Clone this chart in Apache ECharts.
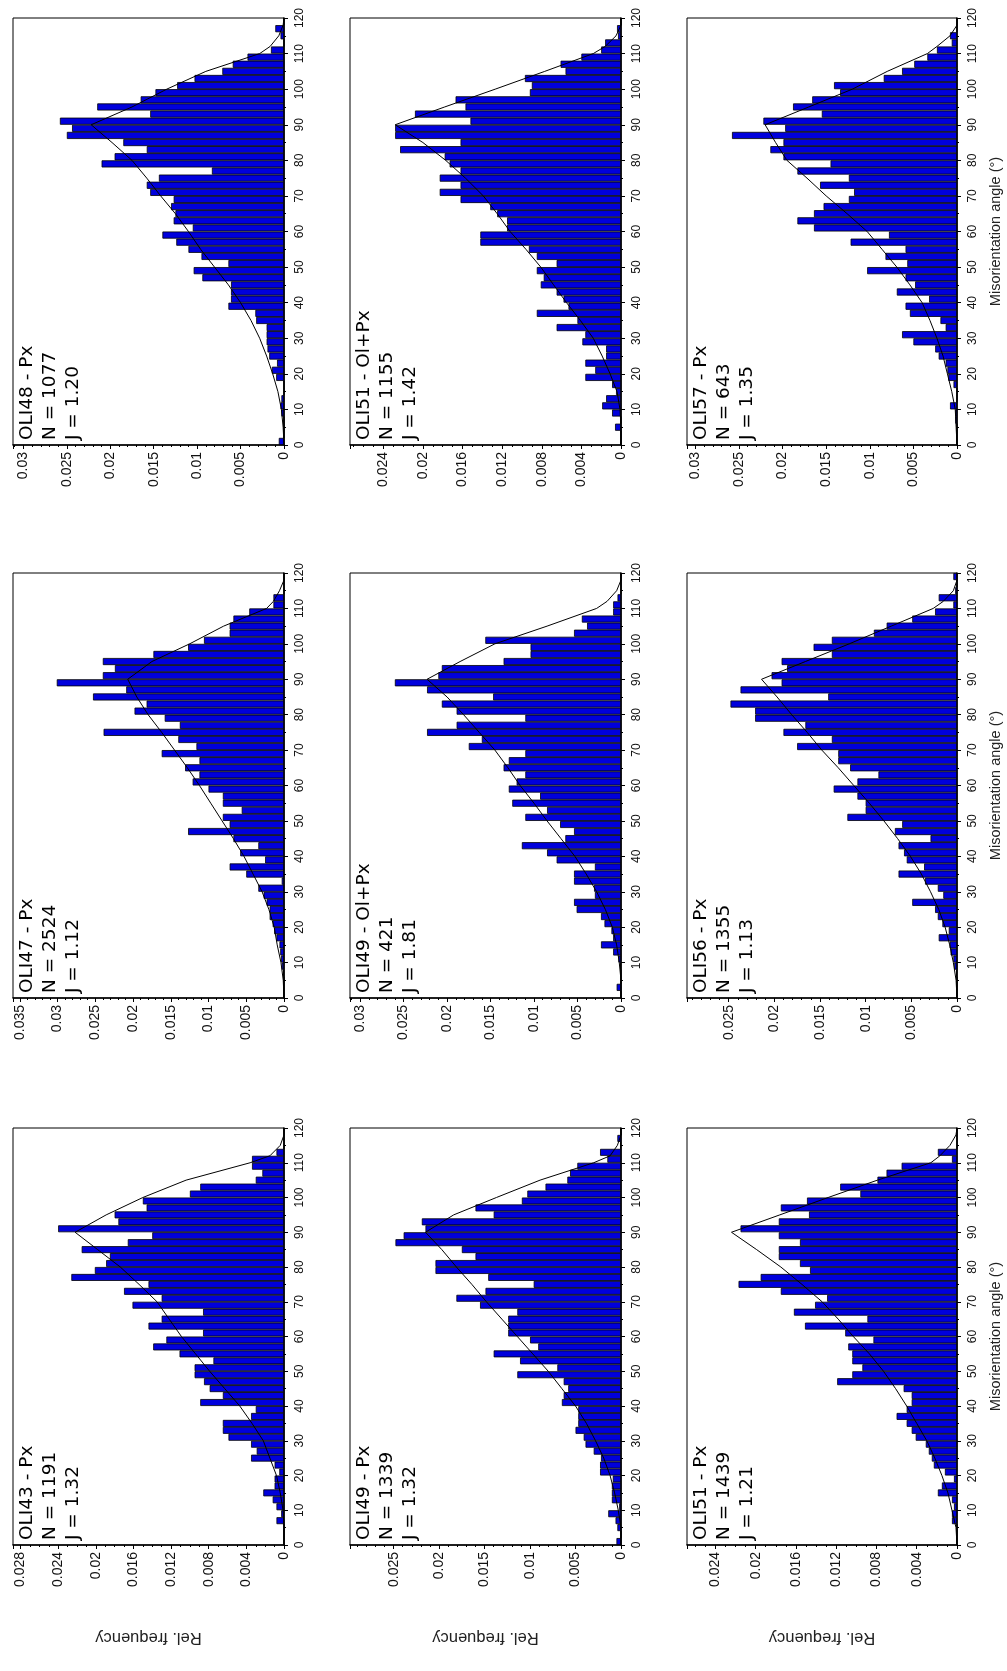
<!DOCTYPE html>
<html>
<head>
<meta charset="utf-8">
<script src="https://cdn.jsdelivr.net/npm/echarts/dist/echarts.min.js"></script>
<style>
html,body{margin:0;padding:0;background:#fff;}
#chart{width:1007px;height:1671px;}
</style>
</head>
<body>
<div id="chart"></div>
<script>
// ---------------- DATA ----------------
// Histogram bins (2 degree wide), lower edge of each bin
const binStarts = [0,2,4,6,8,10,12,14,16,18,20,22,24,26,28,30,32,34,36,38,40,42,44,46,48,50,52,54,56,58,
  60,62,64,66,68,70,72,74,76,78,80,82,84,86,88,90,92,94,96,98,100,102,104,106,108,110,112,114,116,118];

// Angles at which the theoretical (random) curve was read
const curveAngles = [0,5,10,15,20,25,30,35,40,45,50,55,60,65,70,75,80,85,90,95,100,105,110,112,115,118,120];

const oli48Bars = [0.0006,0,0,0,0.0003,0.0004,0.0003,0,0,0.0009,
  0.0014,0.0008,0.0017,0.0019,0.002,0.002,0.002,0.0032,0.0033,0.0064,
  0.0061,0.0061,0.0061,0.0094,0.0104,0.0064,0.0095,0.011,0.0124,0.014,
  0.0105,0.0127,0.0125,0.013,0.0127,0.0154,0.0158,0.0144,0.0083,0.021,
  0.0195,0.0158,0.0185,0.025,0.0244,0.0258,0.0154,0.0215,0.0165,0.0148,
  0.0123,0.0103,0.0071,0.0059,0.0042,0.0015,0,0.0004,0.001,0];
const oli48Curve = [0,0.0001,0.0003,0.0007,0.0013,0.002,0.0028,0.0038,0.005,0.0064,0.008,0.0096,0.011,0.0125,0.0142,0.0158,0.0175,0.0198,0.0222,0.0175,0.0135,0.009,0.0028,0.0016,0.0006,0.0001,0];

const oli47Bars = [0,0,0,0.0001,0.0003,0.0004,0.0005,0.0006,0.001,0.0013,
  0.0015,0.0019,0.0019,0.0023,0.0027,0.0034,0.0003,0.005,0.0072,0.0025,
  0.0058,0.0034,0.0067,0.0127,0.0072,0.0081,0.0056,0.0081,0.0081,0.01,
  0.0121,0.0112,0.0131,0.0112,0.0162,0.0116,0.014,0.0239,0.0138,0.0158,
  0.0198,0.0182,0.0253,0.0209,0.0301,0.024,0.0224,0.024,0.0173,0.0127,
  0.0106,0.0072,0.0072,0.0067,0.0046,0.0014,0.0014,0,0,0];
const oli47Curve = [0,0.0001,0.0004,0.0009,0.0013,0.002,0.0029,0.0041,0.0053,0.0067,0.0082,0.0097,0.0112,0.0128,0.0145,0.0162,0.018,0.0195,0.0207,0.0175,0.0125,0.008,0.0023,0.0014,0.0006,0,0];

const oli43Bars = [0,0,0,0.0008,0.0003,0.0008,0.0012,0.0022,0.001,0.001,
  0.0005,0.001,0.0035,0.0029,0.0035,0.0059,0.0065,0.0065,0.0035,0.003,
  0.0089,0.0065,0.0079,0.0085,0.0095,0.0095,0.0075,0.0111,0.0139,0.0125,
  0.0086,0.0144,0.013,0.0086,0.0161,0.013,0.017,0.0144,0.0226,0.0201,
  0.0189,0.0185,0.0215,0.0166,0.014,0.024,0.0176,0.018,0.0146,0.015,
  0.01,0.0089,0.003,0.0023,0.0034,0.0034,0.0008,0,0,0];
const oli43Curve = [0,0,0.0001,0.0004,0.0008,0.0015,0.0022,0.0034,0.0047,0.0063,0.0079,0.0094,0.0109,0.0122,0.0135,0.0154,0.0174,0.0198,0.0222,0.0189,0.015,0.0104,0.0036,0.0015,0.0004,0,0];

const oli51OlPxBars = [0,0,0.0006,0,0.0009,0.0019,0.0015,0.0005,0.0009,0.0036,
  0.0026,0.0036,0.0015,0.0015,0.0039,0.0036,0.0065,0.0044,0.0085,0.0053,
  0.0058,0.0065,0.0081,0.0078,0.0085,0.0065,0.0085,0.0093,0.0142,0.0142,
  0.0115,0.0115,0.0125,0.0132,0.0162,0.0183,0.0162,0.0183,0.0162,0.0173,
  0.0178,0.0223,0.0162,0.0228,0.0228,0.0152,0.0208,0.0157,0.0167,0.0092,
  0.009,0.0097,0.0056,0.0061,0.004,0.002,0.0016,0.0003,0.0004,0];
const oli51OlPxCurve = [0,0,0.0001,0.0004,0.0011,0.0019,0.0028,0.0041,0.0055,0.0068,0.0081,0.0096,0.0112,0.0125,0.0139,0.0157,0.0177,0.02,0.0228,0.0178,0.0127,0.0077,0.0028,0.0016,0.0005,0,0];

const oli49OlPxBars = [0,0.0005,0,0,0.0001,0.0003,0.0009,0.0023,0.0009,0.0011,
  0.0019,0.0023,0.0051,0.0054,0.003,0.0031,0.0054,0.0054,0.003,0.0074,
  0.0085,0.0114,0.0064,0.0054,0.007,0.011,0.0085,0.0125,0.0093,0.0129,
  0.012,0.011,0.0135,0.0129,0.011,0.0175,0.016,0.0223,0.0189,0.011,
  0.0189,0.0206,0.0147,0.0223,0.026,0.021,0.0206,0.0135,0.0104,0.0104,
  0.0156,0.0054,0.0039,0.0045,0.0009,0.0009,0.0004,0,0,0];
const oli49OlPxCurve = [0,0,0.0002,0.0005,0.001,0.0018,0.0028,0.004,0.0053,0.0069,0.0085,0.01,0.0116,0.013,0.0145,0.0163,0.0181,0.02,0.0223,0.0185,0.0145,0.0085,0.0028,0.0016,0.0005,0,0];

const oli49PxBars = [0.0005,0,0.0004,0.0006,0.0014,0.0002,0.001,0.001,0.001,0.0009,
  0.0023,0.0023,0.0022,0.003,0.0039,0.0041,0.005,0.0047,0.0047,0.0047,
  0.0065,0.0063,0.0058,0.0063,0.0114,0.007,0.0111,0.014,0.0091,0.01,
  0.0124,0.0124,0.0124,0.0114,0.0155,0.0181,0.0149,0.0096,0.0146,0.0204,
  0.0204,0.016,0.0175,0.0248,0.0239,0.0215,0.0219,0.014,0.016,0.0109,
  0.0103,0.0083,0.0059,0.0056,0.0048,0.0015,0.0023,0.0001,0.0004,0];
const oli49PxCurve = [0,0,0.0003,0.0007,0.0012,0.0019,0.0028,0.0038,0.005,0.0065,0.008,0.0097,0.0114,0.0131,0.0148,0.0164,0.0181,0.0197,0.0215,0.0184,0.0137,0.0089,0.003,0.0012,0.0004,0,0];

const oli57Bars = [0,0,0,0.0002,0.0002,0.0008,0,0,0.0004,0.001,
  0.0011,0.0013,0.0021,0.0025,0.005,0.0063,0.0013,0.0019,0.0054,0.0059,
  0.0032,0.0069,0.0048,0.0059,0.0103,0.0057,0.0082,0.0059,0.0122,0.0078,
  0.0164,0.0183,0.0164,0.0153,0.0124,0.0118,0.0157,0.0124,0.0183,0.0145,
  0.0199,0.0214,0.0199,0.0258,0.0197,0.0222,0.0155,0.0188,0.0166,0.0134,
  0.0141,0.0084,0.0063,0.0049,0.0034,0.0023,0.0006,0.0008,0,0];
const oli57Curve = [0,0.0001,0.0002,0.0006,0.0011,0.0016,0.0023,0.0031,0.004,0.0054,0.0069,0.0086,0.0103,0.0126,0.015,0.0172,0.0195,0.0208,0.022,0.017,0.012,0.008,0.0034,0.0023,0.0008,0,0];

const oli56Bars = [0,0,0,0.0001,0.0003,0.0004,0.0007,0.0008,0.002,0.0009,
  0.0016,0.0021,0.0024,0.0049,0.0015,0.0021,0.0035,0.0064,0.0036,0.0055,
  0.0058,0.0064,0.0029,0.0068,0.006,0.012,0.01,0.01,0.0109,0.0135,
  0.0109,0.0086,0.0117,0.013,0.013,0.0175,0.0137,0.019,0.0166,0.0221,
  0.0221,0.0248,0.0141,0.0237,0.0192,0.0203,0.0186,0.0192,0.0137,0.0157,
  0.0137,0.0091,0.0077,0.0049,0.0024,0.0004,0.002,0.0002,0,0.0004];
const oli56Curve = [0,0.0001,0.0004,0.0008,0.0013,0.002,0.0029,0.0039,0.0051,0.0065,0.008,0.0096,0.0113,0.013,0.0148,0.0164,0.0181,0.0197,0.0214,0.0166,0.0118,0.0072,0.0026,0.0015,0.0004,0,0];

const oli51PxBars = [0,0,0,0.0005,0.0005,0.0003,0.0005,0.0019,0.0015,0.0003,
  0.0012,0.0023,0.0025,0.0028,0.0031,0.0041,0.0045,0.005,0.006,0.005,
  0.0045,0.0045,0.0053,0.0119,0.0104,0.0094,0.0104,0.0104,0.0108,0.0083,
  0.0111,0.0151,0.0089,0.0162,0.0141,0.0129,0.0175,0.0217,0.0195,0.0146,
  0.0156,0.0177,0.0177,0.0156,0.0177,0.0215,0.0177,0.0147,0.0175,0.0149,
  0.0096,0.0116,0.0079,0.007,0.0055,0.0005,0.0019,0,0,0];
const oli51PxCurve = [0,0.0001,0.0005,0.0009,0.0015,0.0022,0.003,0.004,0.005,0.0061,0.0073,0.0087,0.0103,0.0118,0.0134,0.0154,0.0175,0.0199,0.0224,0.0176,0.0128,0.0079,0.0026,0.0017,0.0007,0.0001,0];

// Panel texts
const panelTitles = ['OLI48 - Px','OLI47 - Px','OLI43 - Px','OLI51 - Ol+Px','OLI49 - Ol+Px','OLI49 - Px','OLI57 - Px','OLI56 - Px','OLI51 - Px'];
const panelN = [1077, 2524, 1191, 1155, 421, 1339, 643, 1355, 1439];
const panelJ = ['1.20','1.12','1.32','1.42','1.81','1.32','1.35','1.13','1.21'];
const panelBars = [oli48Bars, oli47Bars, oli43Bars, oli51OlPxBars, oli49OlPxBars, oli49PxBars, oli57Bars, oli56Bars, oli51PxBars];
const panelCurves = [oli48Curve, oli47Curve, oli43Curve, oli51OlPxCurve, oli49OlPxCurve, oli49PxCurve, oli57Curve, oli56Curve, oli51PxCurve];
// Frequency axis extents and tick step
const freqMax = [0.0312, 0.0359, 0.0288, 0.02736, 0.03116, 0.0298, 0.03096, 0.02956, 0.02682];
const freqStep = [0.005, 0.005, 0.004, 0.004, 0.005, 0.005, 0.005, 0.005, 0.004];
const angleTickStep = 10;
const xTitle = 'Misorientation angle (°)';
const yTitle = 'Rel. frequency';

// ---------------- LAYOUT ----------------
const colBoxes = [{left: 13, width: 271}, {left: 350, width: 271}, {left: 687, width: 270}];
const rowBoxes = [{top: 18, height: 427}, {top: 573, height: 425}, {top: 1128, height: 417}];
const panelCol = [0,0,0,1,1,1,2,2,2];
const panelRow = [0,1,2,0,1,2,0,1,2];

const BAR_COLOR = '#0000dc';
const FONT = '"Liberation Sans", Arial, sans-serif';

const grids = [], xAxes = [], yAxes = [], series = [], graphics = [];

for (let i = 0; i < 9; i++) {
  const c = colBoxes[panelCol[i]], r = rowBoxes[panelRow[i]];
  grids.push({left: c.left, top: r.top, width: c.width, height: r.height,
    show: true, borderColor: '#000', borderWidth: 1, backgroundColor: '#fff'});

  const isBottomRow = panelRow[i] === 2;
  const isRightCol = panelCol[i] === 2;

  xAxes.push({
    gridIndex: i, type: 'value', min: 0, max: freqMax[i], interval: freqStep[i],
    inverse: true, position: 'bottom',
    axisLine: {show: true, onZero: false, lineStyle: {color: '#000', width: 1.6}},
    axisTick: {show: true, length: 4, lineStyle: {color: '#000'}},
    minorTick: {show: true, splitNumber: Math.round(freqStep[i] / 0.001), length: 2, lineStyle: {color: '#000'}},
    splitLine: {show: false},
    axisLabel: {rotate: 90, fontSize: 14, color: '#111', fontFamily: FONT, margin: 7, showMaxLabel: false},
    name: isBottomRow ? yTitle : '',
    nameLocation: 'middle', nameGap: 84, nameRotate: 180,
    nameTextStyle: {fontSize: 16.5, fontFamily: FONT, color: '#222'}
  });

  // hidden category axis for the bins
  yAxes.push({gridIndex: i, type: 'category', data: binStarts, show: false, position: 'left',
    axisTick: {show: false}, axisLine: {show: false}});
  // visible angle axis
  yAxes.push({
    gridIndex: i, type: 'value', min: 0, max: 120, interval: angleTickStep, position: 'right',
    axisLine: {show: true, onZero: false, lineStyle: {color: '#000', width: 1.6}},
    axisTick: {show: true, length: 4, lineStyle: {color: '#000'}},
    minorTick: {show: true, splitNumber: 2, length: 2, lineStyle: {color: '#000'}},
    splitLine: {show: false},
    axisLabel: {rotate: 90, fontSize: 12, color: '#111', fontFamily: FONT, margin: 10},
    name: isRightCol ? xTitle : '',
    nameLocation: 'middle', nameGap: 31, nameRotate: 90,
    nameTextStyle: {fontSize: 14.5, fontFamily: FONT, color: '#222'}
  });

  series.push({
    type: 'bar', xAxisIndex: i, yAxisIndex: 2 * i,
    data: panelBars[i], barCategoryGap: '0%', barGap: '0%',
    itemStyle: {color: BAR_COLOR, borderColor: '#000', borderWidth: 0.8},
    silent: true, z: 2
  });
  series.push({
    type: 'line', xAxisIndex: i, yAxisIndex: 2 * i + 1,
    data: curveAngles.map((a, k) => [panelCurves[i][k], a]),
    showSymbol: false, symbol: 'none', smooth: false,
    lineStyle: {color: '#000', width: 1}, silent: true, z: 5
  });

  graphics.push({
    type: 'text', x: c.left + 3, y: r.top + r.height - 5, rotation: Math.PI / 2, z: 100,
    style: {
      text: panelTitles[i] + '\nN = ' + panelN[i] + '\nJ = ' + panelJ[i],
      font: '18.5px "DejaVu Sans", sans-serif', fill: '#000', lineHeight: 23,
      textAlign: 'left', textVerticalAlign: 'top', align: 'left', verticalAlign: 'top'
    }
  });
}

const chart = echarts.init(document.getElementById('chart'), null, {renderer: 'canvas'});
chart.setOption({
  animation: false,
  backgroundColor: '#fff',
  grid: grids, xAxis: xAxes, yAxis: yAxes, series: series, graphic: graphics
});
</script>
</body>
</html>
